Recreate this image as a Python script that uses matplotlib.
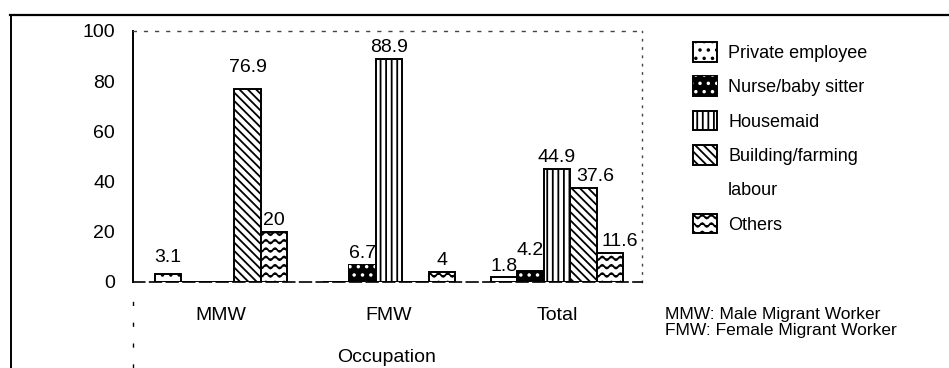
import warnings
import numpy as np
import matplotlib
matplotlib.use("Agg")
import matplotlib.pyplot as plt
import matplotlib.hatch as mhatch
from matplotlib.path import Path
from matplotlib.patches import Rectangle
from matplotlib.lines import Line2D

warnings.filterwarnings("ignore", category=matplotlib.MatplotlibDeprecationWarning)

# ---- data -------------------------------------------------------------
groups = ["MMW", "FMW", "Total"]
series = ["Private employee", "Nurse/baby sitter", "Housemaid",
          "Building/farming labour", "Others"]
private_employee = [3.1, 0.0, 1.8]
nurse_baby_sitter = [0.0, 6.7, 4.2]
housemaid = [0.0, 88.9, 44.9]
building_farming = [76.9, 0.0, 37.6]
others = [20.0, 4.0, 11.6]
y_ticks = [0, 20, 40, 60, 80, 100]
notes = ["MMW: Male Migrant Worker", "FMW: Female Migrant Worker"]


# ---- wavy hatch ("~") ---------------------------------------------------
class WaveHatch(mhatch.HatchPatternBase):
    """Horizontal wavy lines, selected with '~' in a hatch string."""
    periods = 11
    steps = 8

    def __init__(self, hatch, density):
        self.num_lines = int(hatch.count("~") * density)
        n_pts = self.periods * self.steps + 1
        self.num_vertices = (self.num_lines + 1) * n_pts if self.num_lines else 0

    def set_vertices_and_codes(self, vertices, codes):
        n_pts = self.periods * self.steps + 1
        x = np.linspace(0, 1, n_pts)
        amp = 0.22 / self.num_lines
        wave = amp * np.sin(2 * np.pi * self.periods * x)
        for i in range(self.num_lines + 1):
            sl = slice(i * n_pts, (i + 1) * n_pts)
            vertices[sl, 0] = x
            vertices[sl, 1] = i / self.num_lines + wave
            codes[sl] = Path.LINETO
            codes[i * n_pts] = Path.MOVETO


mhatch._hatch_types.append(WaveHatch)

plt.rcParams["font.family"] = ["Liberation Sans", "DejaVu Sans"]
plt.rcParams["hatch.linewidth"] = 1.3

W, H = 949, 368
fig = plt.figure(figsize=(W / 100, H / 100), dpi=100)
fig.patch.set_facecolor("white")
ax = fig.add_axes([133 / W, 1 - 282 / H, (642 - 133) / W, (282 - 31) / H])

x = np.arange(len(groups))
bw = 0.158
values = [private_employee, nurse_baby_sitter, housemaid, building_farming, others]
edge = dict(edgecolor="black", linewidth=1.4)

b_priv = ax.bar(x - 2 * bw, private_employee, bw, facecolor="white", hatch="..", **edge)
b_nurse = ax.bar(x - bw, nurse_baby_sitter, bw, facecolor="black", **edge)
b_nurse_dots = ax.bar(x - bw, nurse_baby_sitter, bw, facecolor="none",
                      edgecolor="white", linewidth=0, hatch="..")
b_house = ax.bar(x, housemaid, bw, facecolor="white", hatch="|||", **edge)
b_build = ax.bar(x + bw, building_farming, bw, facecolor="white", hatch="\\\\\\\\", **edge)
b_other = ax.bar(x + 2 * bw, others, bw, facecolor="white", hatch="~~", **edge)

# value labels above each non-zero bar
nudge = {(0, 0): (0, 3.6), (0, 3): (0, 7), (2, 1): (0, 6.5),
         (2, 3): (8.6, 0), (2, 4): (7, 0)}
for si, vals in enumerate(values):
    for gi, v in enumerate(vals):
        if v == 0:
            continue
        dx, dy = nudge.get((gi, si), (0, 0))
        ax.annotate(f"{v:g}", xy=(x[gi] + (si - 2) * bw, v),
                    xytext=(dx, 5 + dy), textcoords="offset points",
                    ha="center", va="baseline", fontsize=14)

ax.set_xlim(-0.524, 2.506)
ax.set_ylim(0, 100)
ax.set_yticks(y_ticks)
ax.set_xticks(x)
ax.set_xticklabels(groups)
ax.tick_params(axis="y", length=0, pad=13, labelsize=14)
ax.tick_params(axis="x", length=0, pad=18, labelsize=14)

ax.spines["left"].set_linewidth(1.4)
ax.spines["top"].set_linestyle((0, (2, 6)))
ax.spines["top"].set_linewidth(1.0)
ax.spines["top"].set_color("#444444")
ax.spines["right"].set_linestyle((0, (1, 5)))
ax.spines["right"].set_linewidth(1.0)
ax.spines["right"].set_color("#444444")
ax.spines["bottom"].set_linestyle((0, (7, 3)))
ax.spines["bottom"].set_linewidth(1.2)

fig.text(387 / W, 1 - 357 / H, "Occupation", ha="center", va="center", fontsize=14)

# legend; the second line of the building entry sits on its own row
blank = Rectangle((0, 0), 1, 1, facecolor="none", edgecolor="none")
handles = [b_priv[0], (b_nurse[1], b_nurse_dots[1]), b_house[1], b_build[0], blank, b_other[0]]
labels = ["Private employee", "Nurse/baby sitter", "Housemaid",
          "Building/farming", "labour", "Others"]
fig.legend(handles, labels, loc="upper left", bbox_to_anchor=(693 / W, 1 - 42 / H),
           frameon=False, borderpad=0, borderaxespad=0, handlelength=1.35,
           handleheight=1.3, handletextpad=0.6, labelspacing=0.8, fontsize=13)

fig.text(665 / W, 1 - 315 / H, notes[0], ha="left", va="center", fontsize=12.5)
fig.text(665 / W, 1 - 331 / H, notes[1], ha="left", va="center", fontsize=12.5)

# outer frame and the dashed guide below the value axis
fig.add_artist(Line2D([10 / W, 1], [1 - 15 / H] * 2, color="black", linewidth=1.6,
                      transform=fig.transFigure))
fig.add_artist(Line2D([11 / W] * 2, [0, 1 - 15 / H], color="black", linewidth=1.4,
                      transform=fig.transFigure))
fig.add_artist(Line2D([133 / W] * 2, [0, 1 - 286 / H], color="black", linewidth=1.0,
                      linestyle=(0, (3, 12)), transform=fig.transFigure))

fig.savefig("out.png", dpi=100, facecolor="white")
